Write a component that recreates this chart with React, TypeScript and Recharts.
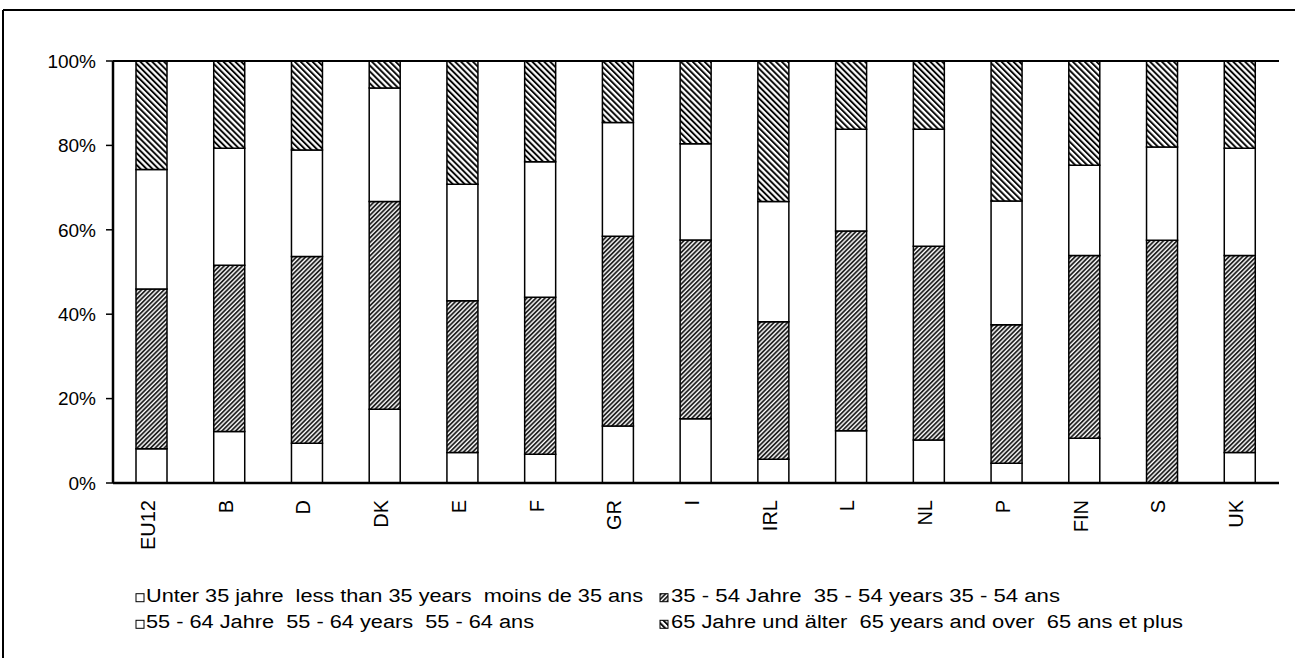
import React from 'react';
import { BarChart, Bar, XAxis, YAxis, ReferenceLine } from 'recharts';

const categories = ['EU12', 'B', 'D', 'DK', 'E', 'F', 'GR', 'I', 'IRL', 'L', 'NL', 'P', 'FIN', 'S', 'UK'];
const under35 = [8.1, 12.2, 9.4, 17.5, 7.2, 6.8, 13.5, 15.2, 5.6, 12.4, 10.2, 4.7, 10.6, 0, 7.2];
const age35to54 = [37.9, 39.4, 44.3, 49.2, 36.0, 37.2, 45.0, 42.4, 32.6, 47.3, 45.9, 32.8, 43.3, 57.5, 46.7];
const age55to64 = [28.3, 27.7, 25.2, 26.9, 27.6, 32.1, 26.9, 22.8, 28.5, 24.1, 27.7, 29.3, 21.4, 22.1, 25.4];
const age65plus = [25.7, 20.7, 21.1, 6.4, 29.2, 23.9, 14.6, 19.6, 33.3, 16.2, 16.2, 33.2, 24.7, 20.4, 20.7];
const yTicks = [0, 20, 40, 60, 80, 100];
const legendLabels = [
  'Unter 35 jahre  less than 35 years  moins de 35 ans',
  '35 - 54 Jahre  35 - 54 years 35 - 54 ans',
  '55 - 64 Jahre  55 - 64 years  55 - 64 ans',
  '65 Jahre und älter  65 years and over  65 ans et plus',
];

const FONT = '"Liberation Sans", Arial, Helvetica, sans-serif';

const data = categories.map((c, i) => ({
  cat: c,
  u35: under35[i],
  a35: age35to54[i],
  a55: age55to64[i],
  a65: age65plus[i],
}));

const fills = ['#ffffff', 'url(#hatchMid)', '#ffffff', 'url(#hatchOld)'];
const keys = ['u35', 'a35', 'a55', 'a65'];

// legend layout: [iconX, textX, baselineY, textLength]
const legendPos = [
  [136, 146, 601.7, 497],
  [660, 671, 601.7, 389],
  [136, 146, 628.3, 388],
  [660, 671, 628.3, 512],
];

const XTick = (props: any) => {
  const { x, y, payload } = props;
  return (
    <text
      transform={`translate(${x + 3},${y + 9}) rotate(-90)`}
      textAnchor="end"
      fontSize={20}
      fontFamily={FONT}
      fill="#000"
    >
      {payload.value}
    </text>
  );
};

export default function App() {
  return (
    <div>
      <svg width={0} height={0} style={{ position: 'absolute' }}>
        <defs>
          <pattern id="hatchOld" patternUnits="userSpaceOnUse" width={4.2} height={4.2} patternTransform="rotate(-45)">
            <rect width={4.2} height={4.2} fill="#fff" />
            <line x1={1} y1={0} x2={1} y2={4.2} stroke="#000" strokeWidth={1.9} />
          </pattern>
          <pattern id="hatchMid" patternUnits="userSpaceOnUse" width={3.2} height={3.2} patternTransform="rotate(45)">
            <rect width={3.2} height={3.2} fill="#fff" />
            <line x1={1} y1={0} x2={1} y2={3.2} stroke="#111" strokeWidth={1.7} />
          </pattern>
        </defs>
      </svg>
      <div style={{ position: 'absolute', left: 0, top: 0 }}>
        <BarChart
          width={1295}
          height={658}
          data={data}
          margin={{ top: 61, right: 16, left: 43, bottom: 115 }}
          barSize={31}
        >
          <XAxis
            dataKey="cat"
            height={60}
            tickLine={false}
            tickSize={6}
            tickMargin={2}
            axisLine={{ stroke: '#000', strokeWidth: 2.5 }}
            tick={<XTick />}
            interval={0}
          />
          <YAxis
            yAxisId="left"
            width={70}
            domain={[0, 100]}
            ticks={yTicks}
            allowDataOverflow
            tickFormatter={(v: number) => `${v}%`}
            tickSize={7}
            tickMargin={10}
            tickLine={{ stroke: '#000', strokeWidth: 1.5 }}
            axisLine={{ stroke: '#000', strokeWidth: 2.5 }}
            tick={{ fontSize: 19, fontFamily: FONT, fill: '#000' }}
          />
          <YAxis
            yAxisId="right"
            orientation="right"
            width={0}
            domain={[0, 100]}
            tick={false}
            tickLine={false}
            axisLine={{ stroke: '#000', strokeWidth: 2 }}
          />
          <ReferenceLine yAxisId="left" y={100} stroke="#000" strokeWidth={2} />
          {keys.map((k, i) => (
            <Bar
              key={k}
              yAxisId="left"
              dataKey={k}
              stackId="a"
              fill={fills[i]}
              stroke="#000"
              strokeWidth={1.5}
              isAnimationActive={false}
            />
          ))}
        </BarChart>
      </div>
      <svg
        width={1295}
        height={658}
        style={{ position: 'absolute', left: 0, top: 0, pointerEvents: 'none' }}
      >
        <line x1={3} y1={10} x2={1295} y2={10} stroke="#000" strokeWidth={2} />
        <line x1={3} y1={10} x2={3} y2={658} stroke="#000" strokeWidth={2} />
        {legendLabels.map((label, i) => {
          const [ix, tx, by, tl] = legendPos[i];
          return (
            <g key={label}>
              <rect x={ix} y={by - 8} width={8} height={8} fill={fills[i]} stroke="#000" strokeWidth={1} />
              <text
                x={tx}
                y={by}
                fontSize={18}
                fontFamily={FONT}
                fill="#000"
                textLength={tl}
                lengthAdjust="spacingAndGlyphs"
                style={{ whiteSpace: 'pre' }}
              >
                {label}
              </text>
            </g>
          );
        })}
      </svg>
    </div>
  );
}
